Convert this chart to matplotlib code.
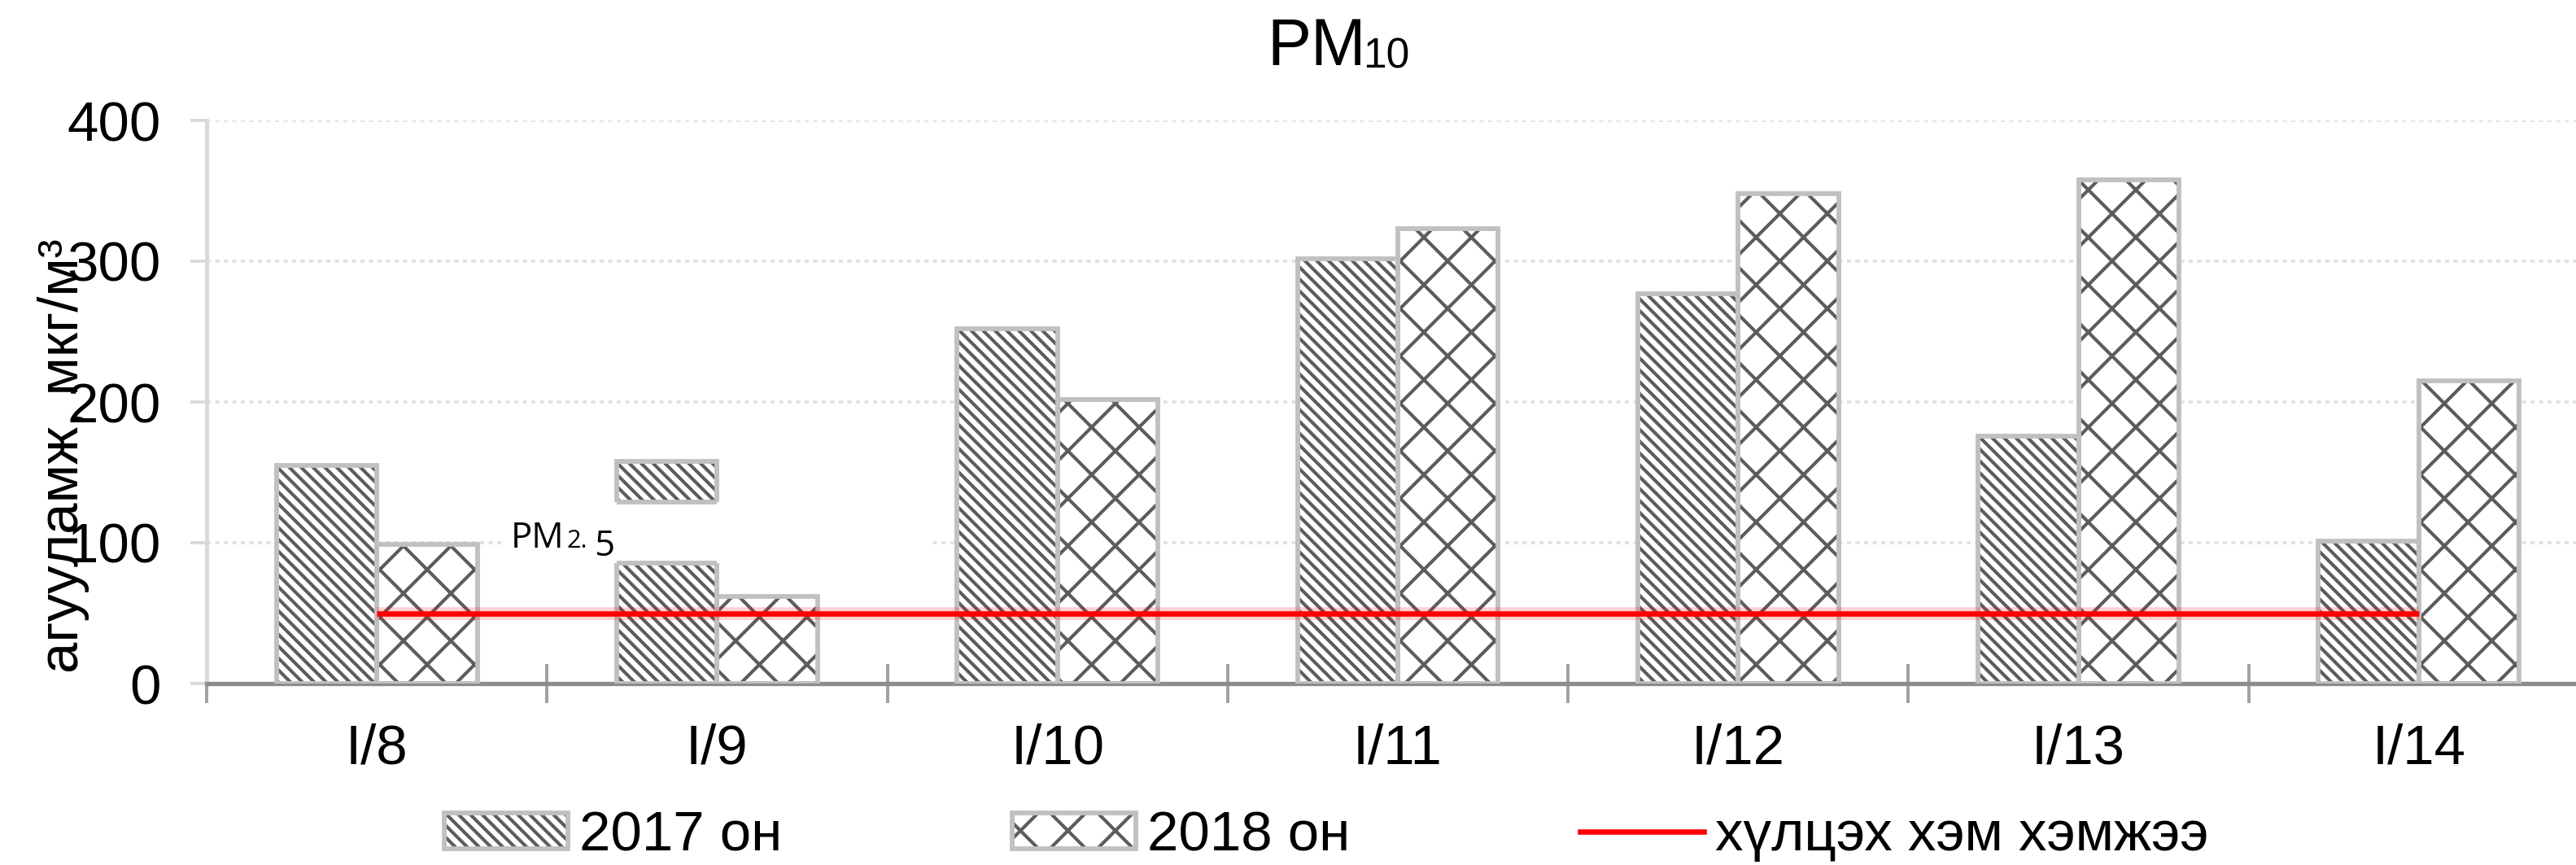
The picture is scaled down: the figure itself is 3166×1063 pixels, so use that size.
"""PM10: 2017 vs 2018 daily concentration with the permissible-level line."""
import matplotlib
matplotlib.use("Agg")
import matplotlib.pyplot as plt
from matplotlib.lines import Line2D
from matplotlib.patches import Patch, Rectangle
import numpy as np

DAYS = ["I/8", "I/9", "I/10", "I/11", "I/12", "I/13", "I/14"]
Y2017 = [155, 158, 252, 302, 277, 176, 101]
Y2018 = [99, 62, 202, 323, 348, 358, 215]
LIMIT = 50
YTICKS = [0, 100, 200, 300, 400]
LABELS = ["2017 он", "2018 он", "хүлцэх хэм хэмжээ"]

EDGE, HATCH, GRID, AXIS = "#c0c0c0", "#5c5c5c", "#e2e2e2", "#8c8c8c"
# agg hatch spacing = 2 * dpi / (6 * count)  -> ~15 px stripes, ~58 px diamonds
H17, H18 = "\\" * 8, "xx"
DPI, W, H = 350, 3166, 1063

# pasted "PM2.5" label box that hides part of the I/9 bar in the source
BOX_X, BOX_Y = (0.37, 1.62), (85.5, 129)


def px(x, y):
    return x / W, 1 - y / H


def main():
    plt.rcParams.update({"font.family": ["Liberation Sans", "DejaVu Sans"],
                         "font.size": 14.2, "hatch.linewidth": 0.85})
    fig = plt.figure(figsize=(W / DPI, H / DPI), dpi=DPI)
    ax = fig.add_axes([254 / W, 1 - 840 / H, 2928 / W, 692 / H])

    x = np.arange(len(DAYS))
    bw = 0.295
    for off, vals, hatch in ((-bw / 2, Y2017, H17), (bw / 2, Y2018, H18)):
        ax.bar(x + off, vals, bw, color="white", edgecolor=HATCH,
               hatch=hatch, lw=0, zorder=2)
        ax.bar(x + off, vals, bw, fill=False, edgecolor=EDGE, lw=1.2,
               zorder=3)

    ax.plot([x[0], x[-1]], [LIMIT, LIMIT], color="red", lw=3.2, alpha=0.18,
            solid_capstyle="butt", zorder=6)
    ax.plot([x[0], x[-1]], [LIMIT, LIMIT], color="red", lw=1.35,
            solid_capstyle="butt", zorder=6)

    ax.add_patch(Rectangle((BOX_X[0], BOX_Y[0]), BOX_X[1] - BOX_X[0],
                           BOX_Y[1] - BOX_Y[0], fc="white", ec="none",
                           zorder=4))
    ax.hlines(BOX_Y, x[1] - bw, x[1], color=EDGE, lw=1.2, zorder=5)

    ax.set_xlim(-0.5, len(DAYS) - 0.5)
    ax.set_ylim(YTICKS[0], YTICKS[-1])
    ax.set_yticks(YTICKS)
    ax.set_xticks(x, DAYS)
    ax.set_xticks(np.arange(len(DAYS) + 1) - 0.5, minor=True)
    ax.tick_params(axis="x", which="major", length=0, pad=10)
    ax.tick_params(axis="x", which="minor", direction="inout", length=9.7,
                   width=0.8, color="#a0a0a0")
    ax.tick_params(axis="y", length=4.1, width=0.8, color="#d9d9d9", pad=7.4)
    for s in ("top", "right"):
        ax.spines[s].set_visible(False)
    ax.spines["left"].set_color("#d9d9d9")
    ax.spines["left"].set_linewidth(1.0)
    ax.spines["bottom"].set_color(AXIS)
    ax.spines["bottom"].set_linewidth(1.1)
    ax.yaxis.grid(True, color=GRID, lw=0.8, ls=(0, (1.3, 1.4)))
    ax.set_axisbelow(True)

    # the source has this label partly under the tick numbers
    fig.text(*px(78, 560), "агууламж, мкг/м³", rotation=90,
             ha="center", va="center")

    fig.text(*px(1557, 80), "PM", fontsize=16.7, va="baseline")
    fig.text(*px(1675, 83), "10", fontsize=10.6, va="baseline")

    fig.text(*px(628, 673), "PM", family="Open Sans", fontsize=9.0,
             va="baseline")
    fig.text(*px(697, 673), "2.", family="Open Sans", fontsize=6.3,
             va="baseline")
    fig.text(*px(730, 683), "5", family="Open Sans", fontsize=9.0,
             va="baseline")

    handles = [
        (Patch(fc="white", ec=HATCH, hatch=H17, lw=0),
         Patch(fill=False, ec=EDGE, lw=1.2)),
        (Patch(fc="white", ec=HATCH, hatch=H18, lw=0),
         Patch(fill=False, ec=EDGE, lw=1.2)),
        Line2D([], [], color="red", lw=1.35),
    ]
    fig.legend(handles, LABELS, loc="center", bbox_to_anchor=px(1630, 1027),
               ncol=3, frameon=False, handlelength=2.2, handleheight=0.6,
               handletextpad=0.2, columnspacing=4.1, borderaxespad=0)

    fig.savefig("out.png", dpi=DPI)


if __name__ == "__main__":
    main()
